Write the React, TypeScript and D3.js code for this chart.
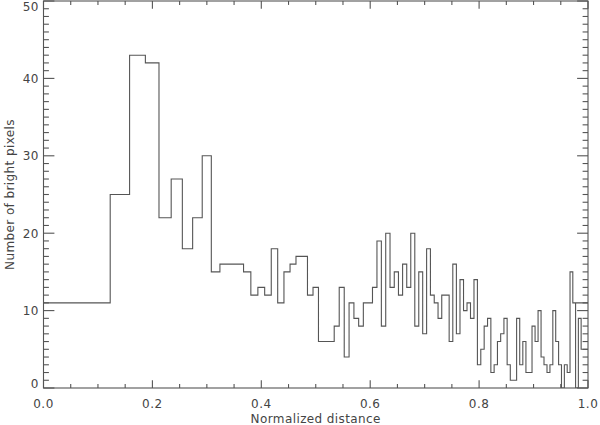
import React from 'react';
import * as d3 from 'd3';

// Bin edges (normalized distance); the last two entries
// reproduce the line that runs past 1.0 and folds back at the right edge.
const binEdges: number[] = [
  0, 0.1225, 0.1581, 0.1871, 0.2121, 0.2345, 0.255, 0.2739, 0.2915, 0.3082,
  0.324, 0.3391, 0.3536, 0.3674, 0.3808, 0.3937, 0.4062, 0.4183, 0.4301, 0.4416,
  0.4528, 0.4637, 0.4743, 0.4848, 0.495, 0.505, 0.5148, 0.5244, 0.5339, 0.5431,
  0.5523, 0.5612, 0.5701, 0.5788, 0.5874, 0.5958, 0.6042, 0.6124, 0.6205, 0.6285,
  0.6364, 0.6442, 0.6519, 0.6595, 0.6671, 0.6745, 0.6819, 0.6892, 0.6964, 0.7036,
  0.7106, 0.7176, 0.7246, 0.7314, 0.7382, 0.745, 0.7517, 0.7583, 0.7649, 0.7714,
  0.7778, 0.7842, 0.7906, 0.7969, 0.8031, 0.8093, 0.8155, 0.8216, 0.8276, 0.8337,
  0.8396, 0.8456, 0.8515, 0.8573, 0.8631, 0.8689, 0.8746, 0.8803, 0.886, 0.8916,
  0.8972, 0.9028, 0.9083, 0.9138, 0.9192, 0.9247, 0.9301, 0.9354, 0.9407, 0.946,
  0.9513, 0.9566, 0.9618, 0.967, 0.9721, 0.9772, 0.9823, 0.9874, 0.9925, 0.9975,
  1.01, 0.978,
];

// Number of bright pixels in each bin
const binCounts: number[] = [
  11, 25, 43, 42, 22, 27, 18, 22, 30, 15,
  16, 16, 16, 15, 12, 13, 12, 18, 11, 15,
  16, 17, 17, 12, 13, 6, 6, 6, 8, 13,
  4, 11, 9, 8, 11, 11, 13, 19, 8, 20,
  13, 15, 12, 16, 13, 20, 8, 15, 7, 18,
  12, 11, 9, 12, 12, 6, 16, 7, 14, 10,
  11, 9, 14, 3, 5, 8, 9, 2, 3, 6,
  7, 9, 3, 1, 1, 9, 3, 6, 2, 2,
  8, 6, 10, 4, 3, 2, 3, 10, 6, 3,
  0, 3, 2, 15, 11, 0, 9, 5, 5, 5,
  11,
];

const xTickValues = [0, 0.2, 0.4, 0.6, 0.8, 1.0];
const xTickLabels = ['0.0', '0.2', '0.4', '0.6', '0.8', '1.0'];
const yTickValues = [0, 10, 20, 30, 40, 50];
const yTickLabels = ['0', '10', '20', '30', '40', '50'];
const xMinorValues = [0.05, 0.1, 0.15, 0.25, 0.3, 0.35, 0.45, 0.5, 0.55, 0.65, 0.7, 0.75, 0.85, 0.9, 0.95];
const yMinorValues = d3.range(0, 51).filter((v) => v % 10 !== 0);

const xTitle = 'Normalized distance';
const yTitle = 'Number of bright pixels';

const W = 600;
const H = 425;
const left = 43.5;
const right = 588;
const top = 1;
const bottom = 388;

export default function App() {
  const x = d3.scaleLinear().domain([0, 1]).range([left, right]);
  const y = d3.scaleLinear().domain([0, 50]).range([bottom, top]);

  let path = `M${x(binEdges[0])},${y(binCounts[0])}`;
  for (let i = 0; i < binCounts.length; i++) {
    path += `H${x(binEdges[i + 1])}`;
    if (i + 1 < binCounts.length) path += `V${y(binCounts[i + 1])}`;
  }

  const stroke = '#555';
  const textColor = '#444';
  const font = 'DejaVu Sans, sans-serif';
  const fs = 12;
  const xMajLen = 7.7;
  const xMinLen = 3.9;
  const yMajLen = 10.9;
  const yMinLen = 5.4;

  return (
    <svg width={W} height={H} style={{ position: 'absolute', left: 0, top: 0, background: '#fff' }}>
      <defs>
        <clipPath id="plotClip">
          <rect x={left} y={top} width={right - left} height={bottom - top} />
        </clipPath>
      </defs>
      <rect x={0} y={0} width={W} height={H} fill="#fff" />
      {/* histogram */}
      <path d={path} fill="none" stroke={stroke} strokeWidth={1.1} clipPath="url(#plotClip)" />
      {/* frame */}
      <rect x={left} y={top} width={right - left} height={bottom - top} fill="none" stroke={stroke} strokeWidth={1.1} />
      {/* x ticks bottom & top */}
      {xTickValues.map((v) => (
        <g key={'xt' + v}>
          <line x1={x(v)} x2={x(v)} y1={bottom} y2={bottom - xMajLen} stroke={stroke} strokeWidth={1.1} />
          <line x1={x(v)} x2={x(v)} y1={top} y2={top + xMajLen} stroke={stroke} strokeWidth={1.1} />
        </g>
      ))}
      {xMinorValues.map((v) => (
        <g key={'xm' + v}>
          <line x1={x(v)} x2={x(v)} y1={bottom} y2={bottom - xMinLen} stroke={stroke} strokeWidth={1.1} />
          <line x1={x(v)} x2={x(v)} y1={top} y2={top + xMinLen} stroke={stroke} strokeWidth={1.1} />
        </g>
      ))}
      {/* y ticks left & right */}
      {yTickValues.map((v) => (
        <g key={'yt' + v}>
          <line x1={left} x2={left + yMajLen} y1={y(v)} y2={y(v)} stroke={stroke} strokeWidth={1.1} />
          <line x1={right} x2={right - yMajLen} y1={y(v)} y2={y(v)} stroke={stroke} strokeWidth={1.1} />
        </g>
      ))}
      {yMinorValues.map((v) => (
        <g key={'ym' + v}>
          <line x1={left} x2={left + yMinLen} y1={y(v)} y2={y(v)} stroke={stroke} strokeWidth={1.1} />
          <line x1={right} x2={right - yMinLen} y1={y(v)} y2={y(v)} stroke={stroke} strokeWidth={1.1} />
        </g>
      ))}
      {/* x tick labels */}
      {xTickValues.map((v, i) => (
        <text key={'xl' + v} x={x(v)} y={408} textAnchor="middle" fontFamily={font} fontSize={fs} fill={textColor} letterSpacing={0.5}>
          {xTickLabels[i]}
        </text>
      ))}
      {/* y tick labels */}
      {yTickValues.map((v, i) => {
        const cy = Math.min(Math.max(y(v), top + 6), bottom - 4);
        return (
          <text key={'yl' + v} x={39} y={cy} dy="0.36em" textAnchor="end" fontFamily={font} fontSize={fs} fill={textColor} letterSpacing={0.5}>
            {yTickLabels[i]}
          </text>
        );
      })}
      {/* axis titles */}
      <text x={(left + right) / 2} y={423} textAnchor="middle" fontFamily={font} fontSize={fs} fill={textColor} letterSpacing={0.4}>
        {xTitle}
      </text>
      <text
        transform={`translate(13.5,${(top + bottom) / 2}) rotate(-90)`}
        textAnchor="middle"
        fontFamily={font}
        fontSize={fs}
        fill={textColor}
        letterSpacing={0.4}
      >
        {yTitle}
      </text>
    </svg>
  );
}
